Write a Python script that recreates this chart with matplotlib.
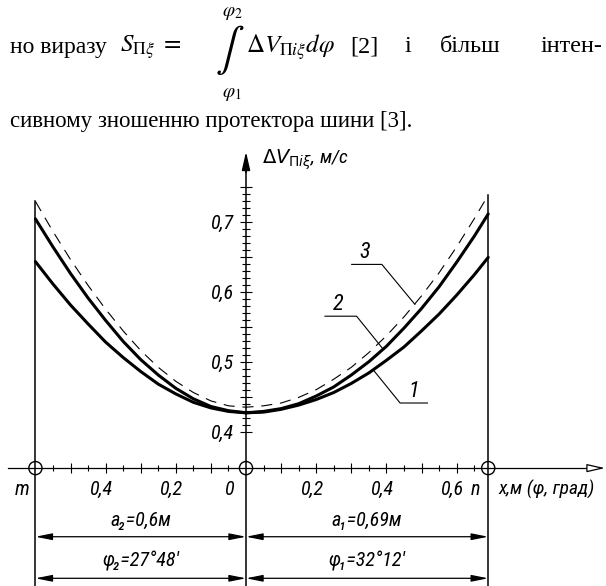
import matplotlib
matplotlib.use("Agg")
import matplotlib.pyplot as plt
from matplotlib import font_manager

# координата x, м (ліворуч від 0 - відрізок до точки m)
x_m = [-0.60, -0.55, -0.50, -0.45, -0.40, -0.35, -0.30, -0.25, -0.20, -0.15, -0.10, -0.05, 0.00,
       0.05, 0.10, 0.15, 0.20, 0.25, 0.30, 0.35, 0.40, 0.45, 0.50, 0.55, 0.60, 0.65, 0.69]
# ΔV_Πiξ, м/с для кривих 1, 2, 3
dv_1 = [0.643, 0.611, 0.581, 0.554, 0.528, 0.506, 0.486, 0.468, 0.454, 0.442, 0.434, 0.429, 0.427,
        0.428, 0.432, 0.438, 0.446, 0.456, 0.469, 0.484, 0.502, 0.521, 0.544, 0.568, 0.595, 0.624, 0.649]
dv_2 = [0.704, 0.664, 0.626, 0.591, 0.559, 0.529, 0.503, 0.481, 0.462, 0.447, 0.436, 0.430, 0.427,
        0.429, 0.433, 0.440, 0.451, 0.464, 0.481, 0.500, 0.522, 0.548, 0.576, 0.607, 0.642, 0.679, 0.711]
dv_3 = [0.729, 0.686, 0.646, 0.609, 0.575, 0.544, 0.516, 0.492, 0.472, 0.456, 0.444, 0.437, 0.435,
        0.437, 0.441, 0.449, 0.460, 0.475, 0.492, 0.513, 0.537, 0.564, 0.594, 0.627, 0.664, 0.704, 0.738]

points_x = [-0.60, 0.00, 0.69]          # точки m, O, n
points_names = ["m", "", "n"]
x_tick_vals = [-0.4, -0.2, 0.0, 0.2, 0.4, 0.6]
x_tick_text = ["0,4", "0,2", "0", "0,2", "0,4", "0,6"]
y_major = [0.40, 0.45, 0.50, 0.55, 0.60, 0.65, 0.70, 0.75]
y_major_text = ["0,4", "", "0,5", "", "0,6", "", "0,7", ""]

dim_a = ["a\u2082=0,6м", "a\u2081=0,69м"]
dim_phi = ["\u03c6\u2082=27°48'", "\u03c6\u2081=32°12'"]

W, H = 606, 586
AXIS_V = 0.348   # де проходить вісь x
Y_LO, Y_HI = 0.1796, 1.0167

names = {f.name for f in font_manager.fontManager.ttflist}
gost = [n for n in ["Liberation Sans Narrow", "Roboto Condensed", "Roboto", "DejaVu Sans"] if n in names]
serif = "Liberation Serif"
plt.rcParams["mathtext.fontset"] = "stix"


def fpos(px, py):
    return px / W, 1 - py / H


def gtext(x, y, s, size=14, **kw):
    kw.setdefault("ha", "center")
    ax.text(x, y, s, va="center", fontsize=size, family=gost, style="italic", **kw)


fig = plt.figure(figsize=(W / 100, H / 100), dpi=100)

# ---- текст над рисунком (рядок вирівняний по ширині) ----
fig.text(*fpos(10, 47), "но виразу", family=serif, fontsize=17, va="center")
fig.text(*fpos(120, 47), r"$S_{\mathit{\Pi}\xi}\ =$", fontsize=18, va="center")
fig.text(*fpos(230, 50), r"$\int$", fontsize=31, va="center", ha="center")
fig.text(*fpos(232, 12), r"$\varphi_2$", fontsize=14, va="center", ha="center")
fig.text(*fpos(232, 94), r"$\varphi_1$", fontsize=14, va="center", ha="center")
fig.text(*fpos(246, 47), r"$\mathit{\Delta}V_{\mathit{\Pi}i\xi}d\varphi$", fontsize=18, va="center")
for px, word in [(350, "[2]"), (405, "і"), (440, "більш"), (541, "інтен-")]:
    fig.text(*fpos(px, 47), word, family=serif, fontsize=17.5, va="center")
fig.text(*fpos(10, 122), "сивному зношенню протектора шини [3].", family=serif, fontsize=16.5, va="center")

# ---- графік ----
ax = fig.add_axes([0, 0, 1, 1])
ax.set_xlim(-0.7009, 1.0256)
ax.set_ylim(Y_LO, Y_HI)
ax.patch.set_alpha(0)
for s in ("top", "right"):
    ax.spines[s].set_visible(False)
ax.spines["left"].set_position(("data", 0))
ax.spines["bottom"].set_position(("data", AXIS_V))
ax.spines["left"].set_bounds(Y_LO, 0.78)
ax.spines["bottom"].set_bounds(-0.678, 1.0)
ax.spines["left"].set_linewidth(1.1)
ax.spines["bottom"].set_linewidth(0.9)

ax.set_xticks([v / 10 for v in range(-5, 7) if v != 0])
ax.set_xticks([v / 100 for v in range(-55, 70, 10)], minor=True)
ax.tick_params(axis="x", which="both", labelbottom=False, direction="inout", width=0.8)
ax.tick_params(axis="x", which="major", length=7.5)
ax.tick_params(axis="x", which="minor", length=4.5)

ax.set_yticks(y_major, labels=y_major_text)
ax.set_yticks([v / 100 for v in range(41, 75) if v % 5], minor=True)
ax.tick_params(axis="y", which="both", direction="inout", width=0.8)
ax.tick_params(axis="y", which="major", length=9, pad=5, labelsize=14.5)
ax.tick_params(axis="y", which="minor", length=5.5)
for lbl in ax.get_yticklabels():
    lbl.set_fontfamily(gost)
    lbl.set_fontstyle("italic")

# стрілки осей
ax.annotate("", xy=(0, 0.80), xytext=(0, 0.77),
            arrowprops=dict(arrowstyle="-|>,head_length=1.1,head_width=0.25", color="black",
                            lw=1.1, shrinkA=0, shrinkB=0, mutation_scale=10))
ax.annotate("", xy=(1.0228, AXIS_V), xytext=(0.99, AXIS_V),
            arrowprops=dict(arrowstyle="-|>,head_length=1.1,head_width=0.25", fc="white", ec="black",
                            lw=0.9, shrinkA=0, shrinkB=0, mutation_scale=10))

# криві
ax.plot(x_m, dv_1, color="black", lw=2.2, solid_capstyle="round")
ax.plot(x_m, dv_2, color="black", lw=2.2, solid_capstyle="round")
ax.plot(x_m, dv_3, color="black", lw=0.8, linestyle=(0, (10, 7)))

# вертикалі в точках m і n
ax.plot([points_x[0], points_x[0]], [Y_LO, dv_3[0]], color="black", lw=1.1)
ax.plot([points_x[2], points_x[2]], [Y_LO, dv_3[-1]], color="black", lw=1.1)
ax.scatter(points_x, [AXIS_V] * 3, s=90, facecolors="none", edgecolors="black", lw=1.0, zorder=5)

# підписи осі x
for xv, t in zip(x_tick_vals, x_tick_text):
    dx = -0.048 if xv == 0 else -0.014
    gtext(xv + dx, 0.317, t, size=14.5)
gtext(-0.638, 0.317, points_names[0], size=14.5)
gtext(0.655, 0.317, points_names[2], size=14.5)
gtext(0.719, 0.317, "x,м (φ, град)", size=14, ha="left")
ax.text(0.046, 0.788, r"$\Delta V_{\Pi i\xi}$, м/с", ha="left", va="center", fontsize=14,
        family=gost, style="italic", math_fontfamily="dejavusans")

# позначення кривих
ax.plot([0.301, 0.387, 0.481], [0.639, 0.639, 0.582], color="black", lw=0.8)
gtext(0.339, 0.656, "3", size=16)
ax.plot([0.225, 0.315, 0.389], [0.565, 0.565, 0.519], color="black", lw=0.8)
gtext(0.263, 0.582, "2", size=16)
ax.plot([0.363, 0.439, 0.517], [0.488, 0.441, 0.441], color="black", lw=0.8)
gtext(0.477, 0.458, "1", size=16)

# розмірні лінії
for row_v, txt_v, texts in [(0.250, 0.2733, dim_a), (0.1906, 0.2147, dim_phi)]:
    for (x0, x1), t in zip([(points_x[0], points_x[1]), (points_x[1], points_x[2])], texts):
        ax.annotate("", xy=(x0, row_v), xytext=(x1, row_v),
                    arrowprops=dict(arrowstyle="<|-|>,head_length=1.0,head_width=0.2", color="black",
                                    lw=0.9, shrinkA=0, shrinkB=0, mutation_scale=10))
        gtext((x0 + x1) / 2, txt_v, t, size=14.5)

fig.savefig("out.png", dpi=100)
